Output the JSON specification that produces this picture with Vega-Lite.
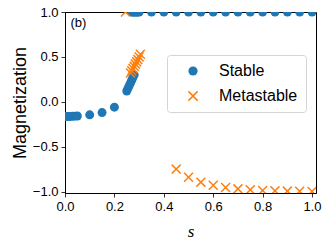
{
  "$schema": "https://vega.github.io/schema/vega-lite/v6.json",
  "width": 251,
  "height": 181,
  "autosize": {"type": "none"},
  "padding": {"left": 65, "top": 12, "right": 11, "bottom": 53},
  "config": {
    "view": {"stroke": "black", "strokeWidth": 1},
    "font": "Liberation Sans",
    "axis": {"grid": false, "domainColor": "black", "domainWidth": 1, "tickColor": "black", "tickWidth": 0.8, "tickSize": 4, "labelColor": "black", "labelFontSize": 13, "labelFont": "Liberation Sans", "labelFlush": false, "titleColor": "black", "titleFontWeight": "normal"}
  },
  "layer": [
    {
      "data": {"values": [
        {"s": 0.0, "m": -0.165, "series": "Stable"},
        {"s": 0.01, "m": -0.164, "series": "Stable"},
        {"s": 0.02, "m": -0.163, "series": "Stable"},
        {"s": 0.03, "m": -0.162, "series": "Stable"},
        {"s": 0.04, "m": -0.16, "series": "Stable"},
        {"s": 0.05, "m": -0.158, "series": "Stable"},
        {"s": 0.1, "m": -0.145, "series": "Stable"},
        {"s": 0.15, "m": -0.12, "series": "Stable"},
        {"s": 0.2, "m": -0.06, "series": "Stable"},
        {"s": 0.25, "m": 0.12, "series": "Stable"},
        {"s": 0.255, "m": 0.15, "series": "Stable"},
        {"s": 0.26, "m": 0.18, "series": "Stable"},
        {"s": 0.265, "m": 0.21, "series": "Stable"},
        {"s": 0.27, "m": 0.24, "series": "Stable"},
        {"s": 0.275, "m": 0.27, "series": "Stable"},
        {"s": 0.28, "m": 0.3, "series": "Stable"},
        {"s": 0.27, "m": 1.0, "series": "Stable"},
        {"s": 0.275, "m": 1.0, "series": "Stable"},
        {"s": 0.28, "m": 1.0, "series": "Stable"},
        {"s": 0.285, "m": 1.0, "series": "Stable"},
        {"s": 0.29, "m": 1.0, "series": "Stable"},
        {"s": 0.295, "m": 1.0, "series": "Stable"},
        {"s": 0.3, "m": 1.0, "series": "Stable"},
        {"s": 0.35, "m": 1.0, "series": "Stable"},
        {"s": 0.4, "m": 1.0, "series": "Stable"},
        {"s": 0.45, "m": 1.0, "series": "Stable"},
        {"s": 0.5, "m": 1.0, "series": "Stable"},
        {"s": 0.55, "m": 1.0, "series": "Stable"},
        {"s": 0.6, "m": 1.0, "series": "Stable"},
        {"s": 0.65, "m": 1.0, "series": "Stable"},
        {"s": 0.7, "m": 1.0, "series": "Stable"},
        {"s": 0.75, "m": 1.0, "series": "Stable"},
        {"s": 0.8, "m": 1.0, "series": "Stable"},
        {"s": 0.85, "m": 1.0, "series": "Stable"},
        {"s": 0.9, "m": 1.0, "series": "Stable"},
        {"s": 0.95, "m": 1.0, "series": "Stable"},
        {"s": 1.0, "m": 1.0, "series": "Stable"},
        {"s": 0.245, "m": 1.0, "series": "Metastable"},
        {"s": 0.265, "m": 0.32, "series": "Metastable"},
        {"s": 0.27, "m": 0.345, "series": "Metastable"},
        {"s": 0.275, "m": 0.37, "series": "Metastable"},
        {"s": 0.28, "m": 0.395, "series": "Metastable"},
        {"s": 0.285, "m": 0.42, "series": "Metastable"},
        {"s": 0.29, "m": 0.445, "series": "Metastable"},
        {"s": 0.295, "m": 0.47, "series": "Metastable"},
        {"s": 0.3, "m": 0.5, "series": "Metastable"},
        {"s": 0.305, "m": 0.53, "series": "Metastable"},
        {"s": 0.45, "m": -0.75, "series": "Metastable"},
        {"s": 0.5, "m": -0.84, "series": "Metastable"},
        {"s": 0.55, "m": -0.895, "series": "Metastable"},
        {"s": 0.6, "m": -0.93, "series": "Metastable"},
        {"s": 0.65, "m": -0.955, "series": "Metastable"},
        {"s": 0.7, "m": -0.97, "series": "Metastable"},
        {"s": 0.75, "m": -0.98, "series": "Metastable"},
        {"s": 0.8, "m": -0.988, "series": "Metastable"},
        {"s": 0.85, "m": -0.992, "series": "Metastable"},
        {"s": 0.9, "m": -0.995, "series": "Metastable"},
        {"s": 0.95, "m": -0.997, "series": "Metastable"},
        {"s": 1.0, "m": -0.998, "series": "Metastable"}
      ]},
      "mark": {"type": "point", "strokeWidth": 1.5, "opacity": 1, "size": 80, "clip": true},
      "encoding": {
        "x": {"field": "s", "type": "quantitative", "scale": {"domain": [0, 1.016], "nice": false, "zero": false},
              "axis": {"values": [0, 0.2, 0.4, 0.6, 0.8, 1.0], "format": ".1f", "labelPadding": 3, "title": "s", "titleFont": "Liberation Serif", "titleFontStyle": "italic", "titleFontSize": 17, "titlePadding": 10}},
        "y": {"field": "m", "type": "quantitative", "scale": {"domain": [-1.016, 1.0], "nice": false, "zero": false},
              "axis": {"values": [-1, -0.5, 0, 0.5, 1.0], "format": ".1f", "labelPadding": 3, "title": "Magnetization", "titleFontSize": 18, "titlePadding": 3}},
        "fill": {"field": "series", "type": "nominal", "scale": {"domain": ["Stable", "Metastable"], "range": ["#1f77b4", "transparent"]},
                 "legend": {"title": null, "orient": "none", "legendX": 102, "legendY": 43, "padding": 8, "symbolOffset": 10, "labelOffset": 18, "rowPadding": 9, "labelFontSize": 16, "labelColor": "black", "symbolSize": 85, "symbolStrokeWidth": 1.5, "strokeColor": "#d5d5d5", "fillColor": "rgba(255,255,255,0.8)", "cornerRadius": 3}},
        "stroke": {"field": "series", "type": "nominal", "scale": {"domain": ["Stable", "Metastable"], "range": ["transparent", "#ff7f0e"]},
                 "legend": {"title": null, "orient": "none", "legendX": 102, "legendY": 43, "padding": 8, "symbolOffset": 10, "labelOffset": 18, "rowPadding": 9, "labelFontSize": 16, "labelColor": "black", "symbolSize": 85, "symbolStrokeWidth": 1.5, "strokeColor": "#d5d5d5", "fillColor": "rgba(255,255,255,0.8)", "cornerRadius": 3}},
        "shape": {"field": "series", "type": "nominal", "scale": {"domain": ["Stable", "Metastable"], "range": ["circle", "M-1,-1L1,1M-1,1L1,-1"]},
                 "legend": {"title": null, "orient": "none", "legendX": 102, "legendY": 43, "padding": 8, "symbolOffset": 10, "labelOffset": 18, "rowPadding": 9, "labelFontSize": 16, "labelColor": "black", "symbolSize": 85, "symbolStrokeWidth": 1.5, "strokeColor": "#d5d5d5", "fillColor": "rgba(255,255,255,0.8)", "cornerRadius": 3}}
      }
    },
    {
      "data": {"values": [{"s": 0.022, "m": 0.88, "label": "(b)"}]},
      "mark": {"type": "text", "align": "left", "baseline": "middle", "fontSize": 13, "color": "black", "font": "Liberation Sans"},
      "encoding": {
        "x": {"field": "s", "type": "quantitative"},
        "y": {"field": "m", "type": "quantitative"},
        "text": {"field": "label"}
      }
    }
  ]
}
